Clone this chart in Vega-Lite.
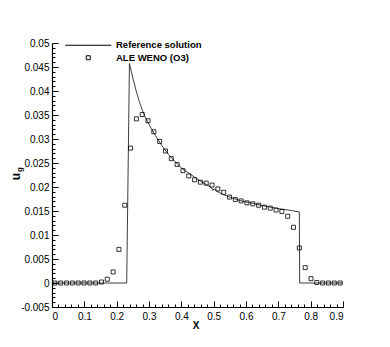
{
  "$schema": "https://vega.github.io/schema/vega-lite/v6.json",
  "width": 291,
  "height": 264,
  "autosize": "none",
  "padding": {"left": 52, "top": 43, "right": 47, "bottom": 40},
  "background": "white",
  "config": {
    "view": {"stroke": null},
    "font": "Liberation Sans",
    "axis": {"grid": false, "labelFont": "Liberation Sans", "labelFontSize": 10, "labelColor": "black", "domainColor": "black", "domainWidth": 1.2, "tickColor": "black", "tickWidth": 1, "labelOverlap": false, "titleFont": "Liberation Sans", "titleColor": "black", "titleFontWeight": "bold"},
    "legend": {"orient": "none", "legendX": 31.5, "legendY": -2.5, "direction": "vertical", "padding": 0, "labelFont": "Liberation Sans", "labelFontSize": 9.5, "labelFontWeight": "bold", "labelColor": "black", "symbolSize": 16, "symbolStrokeWidth": 1, "symbolStrokeColor": "black", "symbolFillColor": "transparent", "labelOffset": 23, "rowPadding": 1.5}
  },
  "datasets": {
    "ref": [
      {"series": "Reference solution", "x": 0, "y": 0},
      {"series": "Reference solution", "x": 0.231, "y": 0},
      {"series": "Reference solution", "x": 0.2395, "y": 0.0457},
      {"series": "Reference solution", "x": 0.25, "y": 0.0427},
      {"series": "Reference solution", "x": 0.26, "y": 0.0401},
      {"series": "Reference solution", "x": 0.27, "y": 0.0378},
      {"series": "Reference solution", "x": 0.28, "y": 0.0359},
      {"series": "Reference solution", "x": 0.29, "y": 0.0343},
      {"series": "Reference solution", "x": 0.30, "y": 0.0330},
      {"series": "Reference solution", "x": 0.32, "y": 0.0307},
      {"series": "Reference solution", "x": 0.34, "y": 0.0286},
      {"series": "Reference solution", "x": 0.36, "y": 0.0268},
      {"series": "Reference solution", "x": 0.38, "y": 0.0253},
      {"series": "Reference solution", "x": 0.40, "y": 0.0240},
      {"series": "Reference solution", "x": 0.42, "y": 0.0230},
      {"series": "Reference solution", "x": 0.44, "y": 0.0221},
      {"series": "Reference solution", "x": 0.46, "y": 0.0212},
      {"series": "Reference solution", "x": 0.48, "y": 0.0204},
      {"series": "Reference solution", "x": 0.494, "y": 0.0198},
      {"series": "Reference solution", "x": 0.497, "y": 0.0193},
      {"series": "Reference solution", "x": 0.501, "y": 0.0196},
      {"series": "Reference solution", "x": 0.51, "y": 0.0191},
      {"series": "Reference solution", "x": 0.53, "y": 0.0184},
      {"series": "Reference solution", "x": 0.55, "y": 0.0179},
      {"series": "Reference solution", "x": 0.58, "y": 0.0172},
      {"series": "Reference solution", "x": 0.62, "y": 0.0166},
      {"series": "Reference solution", "x": 0.66, "y": 0.0160},
      {"series": "Reference solution", "x": 0.70, "y": 0.0155},
      {"series": "Reference solution", "x": 0.74, "y": 0.0151},
      {"series": "Reference solution", "x": 0.765, "y": 0.0148},
      {"series": "Reference solution", "x": 0.766, "y": 0},
      {"series": "Reference solution", "x": 0.9, "y": 0}
    ],
    "ale": [
      {"series": "ALE WENO (O3)", "x": 0.009, "y": 0},
      {"series": "ALE WENO (O3)", "x": 0.027, "y": 0},
      {"series": "ALE WENO (O3)", "x": 0.045, "y": 0},
      {"series": "ALE WENO (O3)", "x": 0.063, "y": 0},
      {"series": "ALE WENO (O3)", "x": 0.081, "y": 0},
      {"series": "ALE WENO (O3)", "x": 0.099, "y": 0},
      {"series": "ALE WENO (O3)", "x": 0.117, "y": 0},
      {"series": "ALE WENO (O3)", "x": 0.135, "y": 0},
      {"series": "ALE WENO (O3)", "x": 0.153, "y": 0.0002},
      {"series": "ALE WENO (O3)", "x": 0.171, "y": 0.0008},
      {"series": "ALE WENO (O3)", "x": 0.189, "y": 0.0023},
      {"series": "ALE WENO (O3)", "x": 0.207, "y": 0.0070},
      {"series": "ALE WENO (O3)", "x": 0.225, "y": 0.0162},
      {"series": "ALE WENO (O3)", "x": 0.243, "y": 0.0281},
      {"series": "ALE WENO (O3)", "x": 0.261, "y": 0.0342},
      {"series": "ALE WENO (O3)", "x": 0.279, "y": 0.0351},
      {"series": "ALE WENO (O3)", "x": 0.297, "y": 0.0338},
      {"series": "ALE WENO (O3)", "x": 0.315, "y": 0.0315},
      {"series": "ALE WENO (O3)", "x": 0.333, "y": 0.0295},
      {"series": "ALE WENO (O3)", "x": 0.351, "y": 0.0275},
      {"series": "ALE WENO (O3)", "x": 0.369, "y": 0.0259},
      {"series": "ALE WENO (O3)", "x": 0.387, "y": 0.0247},
      {"series": "ALE WENO (O3)", "x": 0.405, "y": 0.0234},
      {"series": "ALE WENO (O3)", "x": 0.423, "y": 0.0223},
      {"series": "ALE WENO (O3)", "x": 0.441, "y": 0.0215},
      {"series": "ALE WENO (O3)", "x": 0.459, "y": 0.0210},
      {"series": "ALE WENO (O3)", "x": 0.477, "y": 0.0208},
      {"series": "ALE WENO (O3)", "x": 0.495, "y": 0.0204},
      {"series": "ALE WENO (O3)", "x": 0.513, "y": 0.0196},
      {"series": "ALE WENO (O3)", "x": 0.531, "y": 0.0189},
      {"series": "ALE WENO (O3)", "x": 0.549, "y": 0.0179},
      {"series": "ALE WENO (O3)", "x": 0.567, "y": 0.0174},
      {"series": "ALE WENO (O3)", "x": 0.585, "y": 0.0171},
      {"series": "ALE WENO (O3)", "x": 0.603, "y": 0.0167},
      {"series": "ALE WENO (O3)", "x": 0.621, "y": 0.0165},
      {"series": "ALE WENO (O3)", "x": 0.639, "y": 0.0162},
      {"series": "ALE WENO (O3)", "x": 0.657, "y": 0.0158},
      {"series": "ALE WENO (O3)", "x": 0.675, "y": 0.0156},
      {"series": "ALE WENO (O3)", "x": 0.693, "y": 0.0152},
      {"series": "ALE WENO (O3)", "x": 0.711, "y": 0.0149},
      {"series": "ALE WENO (O3)", "x": 0.729, "y": 0.0139},
      {"series": "ALE WENO (O3)", "x": 0.747, "y": 0.0116},
      {"series": "ALE WENO (O3)", "x": 0.765, "y": 0.0073},
      {"series": "ALE WENO (O3)", "x": 0.783, "y": 0.0032},
      {"series": "ALE WENO (O3)", "x": 0.801, "y": 0.0009},
      {"series": "ALE WENO (O3)", "x": 0.819, "y": 0.0001},
      {"series": "ALE WENO (O3)", "x": 0.837, "y": 0},
      {"series": "ALE WENO (O3)", "x": 0.855, "y": 0},
      {"series": "ALE WENO (O3)", "x": 0.873, "y": 0},
      {"series": "ALE WENO (O3)", "x": 0.891, "y": 0}
    ]
  },
  "resolve": {"axis": {"x": "independent", "y": "independent"}},
  "layer": [
    {
      "data": {"name": "ref"},
      "mark": {"type": "line", "color": "#1a1a1a", "strokeWidth": 0.85, "interpolate": "linear"},
      "encoding": {
        "x": {"field": "x", "type": "quantitative", "scale": {"domain": [0, 0.9], "nice": false, "zero": false},
          "axis": {"orient": "bottom", "values": [0, 0.1, 0.2, 0.3, 0.4, 0.5, 0.6, 0.7, 0.8, 0.9], "labelExpr": "'' + datum.value", "tickSize": -6, "labelPadding": 10.5, "title": "X", "titleFontSize": 10, "titleX": 143.5, "titleY": 18.5, "titleBaseline": "middle", "titleAlign": "center"}},
        "y": {"field": "y", "type": "quantitative", "scale": {"domain": [-0.005, 0.05], "nice": false, "zero": false},
          "axis": {"orient": "left", "values": [-0.005, 0, 0.005, 0.01, 0.015, 0.02, 0.025, 0.03, 0.035, 0.04, 0.045, 0.05], "labelExpr": "'' + datum.value", "tickSize": -6, "labelPadding": 9, "title": "u", "titleFontSize": 12, "titleAngle": 270, "titleX": -37, "titleY": 133, "titleBaseline": "middle", "titleAlign": "center"}},
        "order": {"field": "x", "type": "quantitative"}
      }
    },
    {
      "data": {"name": "ale"},
      "mark": {"type": "point", "filled": false, "color": "black", "strokeWidth": 0.8, "size": 16, "opacity": 1},
      "encoding": {
        "x": {"field": "x", "type": "quantitative", "scale": {"domain": [0, 0.9], "nice": false, "zero": false},
          "axis": {"orient": "bottom", "values": [0.02, 0.04, 0.06, 0.08, 0.12, 0.14, 0.16, 0.18, 0.22, 0.24, 0.26, 0.28, 0.32, 0.34, 0.36, 0.38, 0.42, 0.44, 0.46, 0.48, 0.52, 0.54, 0.56, 0.58, 0.62, 0.64, 0.66, 0.68, 0.72, 0.74, 0.76, 0.78, 0.82, 0.84, 0.86, 0.88], "labels": false, "domain": false, "tickSize": -3, "title": null}},
        "y": {"field": "y", "type": "quantitative", "scale": {"domain": [-0.005, 0.05], "nice": false, "zero": false},
          "axis": {"orient": "left", "values": [-0.004, -0.003, -0.002, -0.001, 0.001, 0.002, 0.003, 0.004, 0.006, 0.007, 0.008, 0.009, 0.011, 0.012, 0.013, 0.014, 0.016, 0.017, 0.018, 0.019, 0.021, 0.022, 0.023, 0.024, 0.026, 0.027, 0.028, 0.029, 0.031, 0.032, 0.033, 0.034, 0.036, 0.037, 0.038, 0.039, 0.041, 0.042, 0.043, 0.044, 0.046, 0.047, 0.048, 0.049], "labels": false, "domain": false, "tickSize": -3, "title": "g", "titleFontSize": 8, "titleAngle": 270, "titleX": -33, "titleY": 126, "titleBaseline": "middle", "titleAlign": "center"}},
        "shape": {"field": "series", "type": "nominal", "scale": {"domain": ["Reference solution", "ALE WENO (O3)"], "range": ["M-11.5,0L11.5,0", "square"]}, "legend": {"title": null}}
      }
    }
  ]
}
